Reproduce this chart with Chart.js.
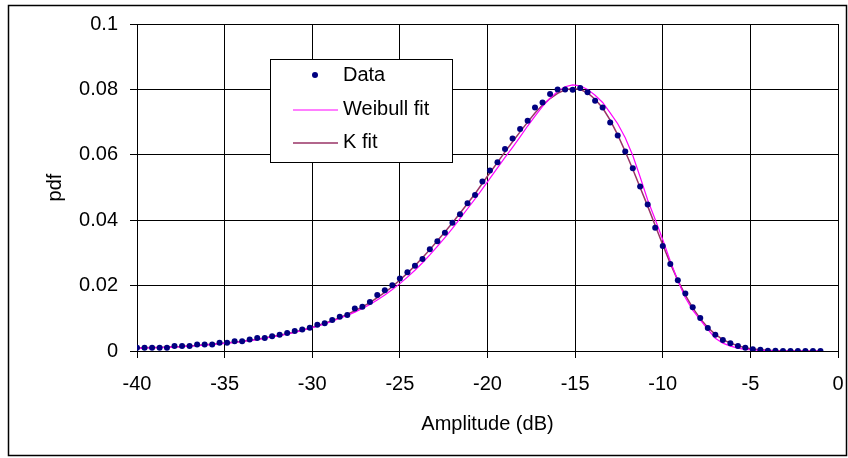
<!DOCTYPE html>
<html>
<head>
<meta charset="utf-8">
<script src="https://cdn.jsdelivr.net/npm/chart.js@4.4.0/dist/chart.umd.min.js"></script>
<style>
  body { margin: 0; background: #fff; }
  #wrap { position: relative; width: 848px; height: 458px; }
</style>
</head>
<body>
<div id="wrap"><canvas id="myChart" width="848" height="458"></canvas></div>
<script>
// amplitude bins (dB)
var amplitude = [-40, -39.57, -39.14, -38.71, -38.29, -37.86, -37.43, -37, -36.57, -36.14,
  -35.71, -35.29, -34.86, -34.43, -34, -33.57, -33.14, -32.71, -32.29, -31.86,
  -31.43, -31, -30.57, -30.14, -29.71, -29.29, -28.86, -28.43, -28, -27.57,
  -27.14, -26.71, -26.29, -25.86, -25.43, -25, -24.57, -24.14, -23.71, -23.29,
  -22.86, -22.43, -22, -21.57, -21.14, -20.71, -20.29, -19.86, -19.43, -19,
  -18.57, -18.14, -17.71, -17.29, -16.86, -16.43, -16, -15.57, -15.14, -14.71,
  -14.29, -13.86, -13.43, -13, -12.57, -12.14, -11.71, -11.29, -10.86, -10.43,
  -10, -9.57, -9.14, -8.71, -8.29, -7.86, -7.43, -7, -6.57, -6.14,
  -5.71, -5.29, -4.86, -4.43, -4, -3.57, -3.14, -2.71, -2.29, -1.86,
  -1.43, -1];

var pdfData = [0.0010, 0.0010, 0.0010, 0.0010, 0.0010, 0.0015, 0.0015, 0.0015, 0.0020, 0.0020,
  0.0020, 0.0025, 0.0025, 0.0030, 0.0030, 0.0035, 0.0040, 0.0040, 0.0045, 0.0050,
  0.0055, 0.0061, 0.0066, 0.0071, 0.0080, 0.0085, 0.0095, 0.0105, 0.0110, 0.0130,
  0.0135, 0.0150, 0.0171, 0.0186, 0.0201, 0.0222, 0.0241, 0.0261, 0.0281, 0.0311,
  0.0336, 0.0362, 0.0392, 0.0418, 0.0452, 0.0477, 0.0518, 0.0552, 0.0577, 0.0618,
  0.0650, 0.0679, 0.0704, 0.0745, 0.0760, 0.0786, 0.0800, 0.0800, 0.0799, 0.0804,
  0.0791, 0.0765, 0.0745, 0.0699, 0.0659, 0.0610, 0.0559, 0.0503, 0.0448, 0.0377,
  0.0321, 0.0266, 0.0216, 0.0176, 0.0134, 0.0101, 0.0070, 0.0050, 0.0034, 0.0024,
  0.0015, 0.0010, 0.0005, 0.0004, 0.0001, 0.0001, 0, 0, 0, 0,
  0, 0];

var weibullFit = [0.0008, 0.0009, 0.0010, 0.0010, 0.0011, 0.0012, 0.0013, 0.0015, 0.0016, 0.0018,
  0.0020, 0.0022, 0.0024, 0.0026, 0.0029, 0.0032, 0.0035, 0.0039, 0.0043, 0.0047,
  0.0052, 0.0057, 0.0063, 0.0069, 0.0076, 0.0083, 0.0091, 0.0100, 0.0109, 0.0119,
  0.0130, 0.0142, 0.0156, 0.0171, 0.0188, 0.0206, 0.0226, 0.0247, 0.0270, 0.0294,
  0.0320, 0.0347, 0.0375, 0.0405, 0.0435, 0.0465, 0.0496, 0.0528, 0.0560, 0.0592,
  0.0623, 0.0655, 0.0688, 0.0718, 0.0748, 0.0773, 0.0794, 0.0808, 0.0814, 0.0811,
  0.0800, 0.0782, 0.0760, 0.0728, 0.0695, 0.0652, 0.0598, 0.0532, 0.0462, 0.0402,
  0.0340, 0.0275, 0.0215, 0.0163, 0.0125, 0.0095, 0.0066, 0.0039, 0.0024, 0.0015,
  0.0009, 0.0005, 0.0003, 0.0002, 0.0001, 0, 0, 0, 0, 0,
  0, 0];

var kFit = [0.0009, 0.0010, 0.0011, 0.0011, 0.0012, 0.0013, 0.0014, 0.0016, 0.0017, 0.0019,
  0.0021, 0.0023, 0.0025, 0.0027, 0.0030, 0.0033, 0.0036, 0.0040, 0.0044, 0.0048,
  0.0053, 0.0058, 0.0064, 0.0070, 0.0077, 0.0085, 0.0093, 0.0102, 0.0112, 0.0123,
  0.0135, 0.0148, 0.0163, 0.0179, 0.0197, 0.0217, 0.0238, 0.0261, 0.0285, 0.0310,
  0.0337, 0.0364, 0.0392, 0.0421, 0.0451, 0.0481, 0.0513, 0.0545, 0.0577, 0.0609,
  0.0640, 0.0670, 0.0700, 0.0728, 0.0752, 0.0772, 0.0788, 0.0799, 0.0803, 0.0800,
  0.0789, 0.0770, 0.0743, 0.0706, 0.0661, 0.0610, 0.0556, 0.0500, 0.0443, 0.0384,
  0.0325, 0.0268, 0.0216, 0.0171, 0.0132, 0.0099, 0.0072, 0.0051, 0.0035, 0.0024,
  0.0016, 0.0010, 0.0006, 0.0004, 0.0002, 0.0001, 0.0001, 0, 0, 0,
  0, 0];

var seriesNames = ['Data', 'Weibull fit', 'K fit'];
var xTitle = 'Amplitude (dB)';
var yTitle = 'pdf';

function pts(ys) {
  return amplitude.map(function (x, i) { return { x: x, y: ys[i] }; });
}

var fontFam = '"Liberation Sans", Arial, sans-serif';

// box round the whole chart + legend box inside plot
var frame = {
  id: 'frame',
  afterDraw: function (chart) {
    var ctx = chart.ctx;
    ctx.save();
    ctx.strokeStyle = '#000';
    ctx.lineWidth = 1.5;
    ctx.strokeRect(8.5, 5.5, 838, 450);

    // legend
    ctx.fillStyle = '#fff';
    ctx.fillRect(270.5, 59.5, 182, 103);
    ctx.lineWidth = 1;
    ctx.strokeRect(270.5, 59.5, 182, 103);
    var rows = [75, 109, 142];
    ctx.font = '20px ' + fontFam;
    ctx.textBaseline = 'middle';
    ctx.textAlign = 'left';
    chart.data.datasets.forEach(function (ds, i) {
      var y = rows[i];
      if (i === 0) {
        ctx.fillStyle = ds.backgroundColor;
        ctx.beginPath();
        ctx.arc(315, y, 3, 0, Math.PI * 2);
        ctx.fill();
      } else {
        ctx.strokeStyle = ds.borderColor;
        ctx.lineWidth = ds.borderWidth;
        ctx.beginPath();
        ctx.moveTo(293, y + 1);
        ctx.lineTo(338, y + 1);
        ctx.stroke();
      }
      ctx.fillStyle = '#000';
      ctx.fillText(ds.label, 343, y);
    });
    ctx.restore();
  }
};

var ctx = document.getElementById('myChart').getContext('2d');
var chart = new Chart(ctx, {
  type: 'scatter',
  data: {
    datasets: [{
      label: seriesNames[0],
      data: pts(pdfData),
      showLine: false,
      backgroundColor: '#000080',
      borderColor: '#000080',
      pointRadius: 3,
      pointBorderWidth: 0
    }, {
      label: seriesNames[1],
      data: pts(weibullFit),
      showLine: true,
      borderColor: '#ff00ff',
      backgroundColor: '#ff00ff',
      borderWidth: 1.2,
      pointRadius: 0,
      tension: 0
    }, {
      label: seriesNames[2],
      data: pts(kFit),
      showLine: true,
      borderColor: '#993366',
      backgroundColor: '#993366',
      borderWidth: 1.5,
      pointRadius: 0,
      tension: 0
    }]
  },
  options: {
    responsive: false,
    animation: false,
    layout: { padding: { top: 23, right: 0, left: 0, bottom: 0 } },
    plugins: { legend: { display: false }, tooltip: { enabled: false } },
    scales: {
      x: {
        type: 'linear',
        min: -40,
        max: 0,
        afterFit: function (s) { s.height = 107; s.paddingRight = 10; },
        ticks: {
          stepSize: 5,
          padding: 14,
          color: '#000',
          font: { family: fontFam, size: 20 },
          callback: function (v) { return String(v); }
        },
        grid: { color: '#000', lineWidth: 1, tickLength: 7 },
        border: { color: '#000', width: 1 },
        title: {
          display: true,
          text: xTitle,
          color: '#000',
          font: { family: fontFam, size: 20 },
          padding: { top: 0, bottom: 22 }
        }
      },
      y: {
        min: 0,
        max: 0.1,
        afterFit: function (s) { s.width = 137; },
        ticks: {
          stepSize: 0.02,
          padding: 12,
          color: '#000',
          font: { family: fontFam, size: 20 },
          callback: function (v) { return String(+v.toFixed(2)); }
        },
        grid: { color: '#000', lineWidth: 1, tickLength: 7 },
        border: { color: '#000', width: 1 },
        title: {
          display: true,
          text: yTitle,
          color: '#000',
          font: { family: fontFam, size: 20 },
          padding: { top: 43, bottom: 0 }
        }
      }
    }
  },
  plugins: [frame]
});
</script>
</body>
</html>
